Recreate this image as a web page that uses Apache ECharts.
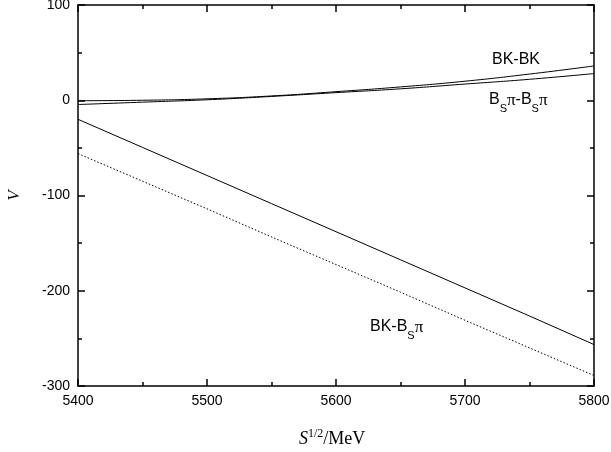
<!DOCTYPE html>
<html>
<head>
<meta charset="utf-8">
<script src="https://cdn.jsdelivr.net/npm/echarts@6/dist/echarts.min.js"></script>
<style>
  html, body { margin: 0; padding: 0; background: #fff; }
  #chart { width: 611px; height: 452px; }
</style>
</head>
<body>
<div id="chart"></div>
<script>
// sqrt(s) in MeV
var energy = [5400, 5450, 5500, 5550, 5600, 5650, 5700, 5750, 5800];
// BK-BK potential
var vBKBK = [-0.5, 0, 1.5, 4.5, 9, 14, 20, 27.5, 36];
// Bs pi - Bs pi potential
var vBsPiBsPi = [-4.5, -2, 0.5, 4, 8, 12, 17, 22, 28];
// BK - Bs pi, solid and dotted
var vBKBsPi = [-20, -49.5, -79, -108.5, -138, -167.5, -197, -226.5, -256.5];
var vBKBsPiDot = [-56, -85, -114, -143.5, -172.5, -201.5, -231, -260, -289];

var xTicks = { min: 5400, max: 5800, interval: 100 };
var yTicks = { min: -300, max: 100, interval: 100 };

function pairs(ys) {
    return energy.map(function (x, i) { return [x, ys[i]]; });
}

var chart = echarts.init(document.getElementById('chart'));

var axisLine = { show: true, onZero: false, lineStyle: { color: '#000', width: 1.5 } };
var majorTick = { inside: true, length: 7, lineStyle: { color: '#000', width: 1.5 } };
var minorTick = { show: true, splitNumber: 2, length: 4, lineStyle: { color: '#000', width: 1.5 } };
var labelFont = { color: '#000', fontFamily: 'Liberation Sans, Arial', fontSize: 14, formatter: function (v) { return String(v); } };

//线条样式
function lineSeries(ys, type, smooth) {
    return {
        type: 'line',
        data: pairs(ys),
        smooth: smooth,
        showSymbol: false,
        lineStyle: { color: '#000', width: 1, type: type },
        silent: true
    };
}

function mirrorAxis(pos, t) {
    return {
        type: 'value', position: pos,
        min: t.min, max: t.max, interval: t.interval,
        axisLine: axisLine, axisTick: majorTick, minorTick: minorTick,
        splitLine: { show: false },
        axisLabel: { show: false }
    };
}

chart.setOption({
    animation: false,
    grid: { left: 78, right: 17, top: 5, bottom: 66, containLabel: false, outerBoundsMode: 'none' },
    xAxis: [{
        type: 'value',
        min: xTicks.min, max: xTicks.max, interval: xTicks.interval,
        axisLine: axisLine, axisTick: majorTick, minorTick: minorTick,
        splitLine: { show: false },
        axisLabel: Object.assign({ margin: 8, showMinLabel: true, showMaxLabel: true }, labelFont)
    }, mirrorAxis('top', xTicks)],
    yAxis: [{
        type: 'value',
        min: yTicks.min, max: yTicks.max, interval: yTicks.interval,
        axisLine: axisLine, axisTick: majorTick, minorTick: minorTick,
        splitLine: { show: false },
        axisLabel: Object.assign({ margin: 8 }, labelFont),
        name: 'V',
        nameLocation: 'middle',
        nameRotate: 90,
        nameGap: 55,
        nameTextStyle: { color: '#000', fontFamily: 'Liberation Serif, Times New Roman', fontStyle: 'italic', fontSize: 17 }
    }, mirrorAxis('right', yTicks)],
    series: [
        lineSeries(vBKBK, 'solid', true),
        lineSeries(vBsPiBsPi, 'solid', true),
        lineSeries(vBKBsPi, 'solid', false),
        lineSeries(vBKBsPiDot, [1.5, 2], false)
    ],
    graphic: [{
        type: 'text', left: 492, top: 52,
        style: { text: 'BK-BK', font: '16px Liberation Sans, Arial', fill: '#000' }
    }, {
        type: 'text', left: 489, top: 92,
        style: {
            text: '{n|B}{s|S}{p|π}{n|-B}{s|S}{p|π}',
            fill: '#000',
            rich: {
                n: { fontFamily: 'Liberation Sans, Arial', fontSize: 16, lineHeight: 20, verticalAlign: 'top' },
                s: { fontFamily: 'Liberation Sans, Arial', fontSize: 11, lineHeight: 20, padding: [11, 0, 0, 0], verticalAlign: 'top' },
                p: { fontFamily: 'Liberation Serif, Times New Roman', fontSize: 17, lineHeight: 20, verticalAlign: 'top' }
            }
        }
    }, {
        type: 'text', left: 370, top: 319,
        style: {
            text: '{n|BK-B}{s|S}{p|π}',
            fill: '#000',
            rich: {
                n: { fontFamily: 'Liberation Sans, Arial', fontSize: 16, lineHeight: 20, verticalAlign: 'top' },
                s: { fontFamily: 'Liberation Sans, Arial', fontSize: 11, lineHeight: 20, padding: [11, 0, 0, 0], verticalAlign: 'top' },
                p: { fontFamily: 'Liberation Serif, Times New Roman', fontSize: 17, lineHeight: 20, verticalAlign: 'top' }
            }
        }
    }, {
        type: 'text', left: 299, top: 428,
        style: {
            text: '{s|S}{e|1/2}{m|/MeV}',
            fill: '#000',
            rich: {
                s: { fontFamily: 'Liberation Serif, Times New Roman', fontStyle: 'italic', fontSize: 18, lineHeight: 22, verticalAlign: 'bottom' },
                e: { fontFamily: 'Liberation Serif, Times New Roman', fontSize: 12, lineHeight: 22, padding: [0, 0, 8, 0], verticalAlign: 'bottom' },
                m: { fontFamily: 'Liberation Serif, Times New Roman', fontSize: 18, lineHeight: 22, verticalAlign: 'bottom' }
            }
        }
    }]
});
</script>
</body>
</html>
